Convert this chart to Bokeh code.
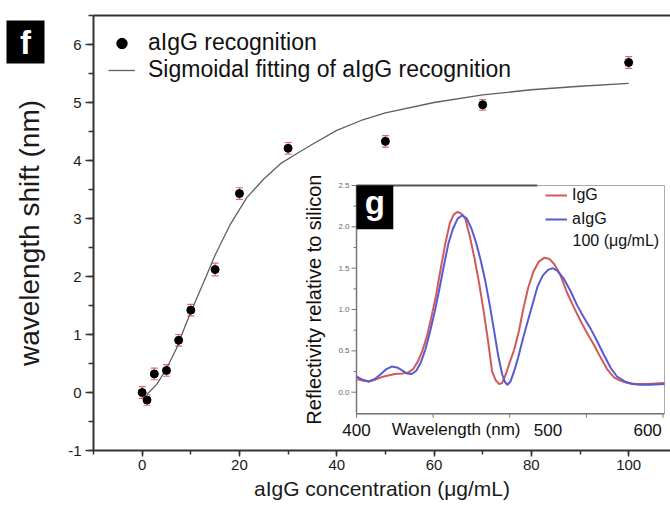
import math
from bokeh.plotting import figure
from bokeh.models import (Range1d, SingleIntervalTicker, ColumnDataSource, Whisker, TeeHead,
                          Legend, LegendItem)
from bokeh.core.properties import value
from bokeh.embed import file_html
from bokeh.resources import INLINE

# ---------------- data (main panel f) ----------------
conc = [0, 1, 2.5, 5, 7.5, 10, 15, 20, 30, 50, 70, 100]
shift = [0.0, -0.13, 0.32, 0.38, 0.90, 1.42, 2.12, 3.43, 4.21, 4.33, 4.96, 5.69]
shift_err = [0.10, 0.09, 0.10, 0.10, 0.10, 0.10, 0.11, 0.10, 0.10, 0.10, 0.09, 0.10]

fit_conc = [1, 3, 5, 7, 9, 11, 13, 15, 18, 21.5, 25, 28.5, 32, 35, 40, 45, 50, 60, 70, 80, 90, 100]
fit_shift = [-0.03, 0.14, 0.41, 0.75, 1.18, 1.58, 1.97, 2.37, 2.88, 3.36, 3.68, 3.95, 4.13,
             4.28, 4.52, 4.69, 4.82, 5.00, 5.13, 5.22, 5.28, 5.33]

# ---------------- data (inset panel g) ----------------
wl_igg = [400, 404, 408, 412, 416, 420, 425, 430, 434, 437, 440, 443, 446, 449, 452, 455, 458,
          461, 463.5, 466, 468.5, 471, 474, 477, 480, 483, 486, 488.5, 491, 493, 495, 497.5,
          500, 503, 506, 509, 512, 515.5, 519, 522.5, 526, 529, 533, 537.5, 542, 546, 550,
          555, 559, 563.5, 568, 572, 577, 582, 590, 601]
refl_igg = [0.16, 0.14, 0.13, 0.15, 0.18, 0.20, 0.22, 0.225, 0.24, 0.28, 0.37, 0.50, 0.68, 0.92,
            1.18, 1.50, 1.80, 2.05, 2.15, 2.18, 2.16, 2.10, 1.88, 1.62, 1.32, 0.98, 0.60, 0.25,
            0.14, 0.10, 0.11, 0.22, 0.36, 0.52, 0.74, 1.02, 1.26, 1.46, 1.58, 1.625, 1.61, 1.55,
            1.42, 1.20, 1.02, 0.87, 0.73, 0.57, 0.43, 0.28, 0.18, 0.14, 0.11, 0.10, 0.10, 0.11]

wl_aigg = [400, 404, 408, 412, 416, 419.5, 423, 426.5, 430, 433, 436, 439, 442, 445, 448, 451,
           454, 457, 460, 463, 466, 469, 472, 475, 478, 481, 484, 487, 490, 492.5, 495, 497,
           498.5, 500.5, 503, 505.5, 508.5, 511.5, 515, 518, 521.5, 525, 528, 531, 535, 539.5,
           544, 548.5, 553, 557, 561.5, 566, 570, 575, 580, 585, 592, 601]
refl_aigg = [0.19, 0.15, 0.13, 0.16, 0.22, 0.28, 0.31, 0.30, 0.26, 0.225, 0.22, 0.26, 0.36, 0.52,
             0.73, 0.97, 1.24, 1.53, 1.80, 1.98, 2.10, 2.14, 2.10, 1.98, 1.81, 1.60, 1.35, 1.05,
             0.72, 0.44, 0.22, 0.12, 0.09, 0.13, 0.26, 0.42, 0.64, 0.84, 1.07, 1.27, 1.41, 1.48,
             1.50, 1.47, 1.38, 1.23, 1.05, 0.90, 0.76, 0.62, 0.45, 0.29, 0.19, 0.13, 0.10, 0.09,
             0.09, 0.10]

inset_yticks = [0.0, 0.5, 1.0, 1.5, 2.0, 2.5]
inset_ytick_labels = ["0.0", "0.5", "1.0", "1.5", "2.0", "2.5"]
inset_yminor = [0.25, 0.75, 1.25, 1.75, 2.25]
inset_xticks = [400, 450, 500, 550, 600]
inset_xlabel_pos = [400, 525, 590]
inset_xlabels = ["400", "500", "600"]

# ---------------- layout constants ----------------
W, H = 670, 505
XLO, XHI = -10, 108.6          # main axes extent (data)
YLO, YHI = -1, 6.5
AX_LEFT, AX_TOP, AX_BOTTOM = 93, 15, 450   # main axes box in pixels
INSET_X = (400, 601)
INSET_Y = (-0.26, 2.5)
INSET_LEFT_PX, INSET_RIGHT_PX = 356, 664
INSET_Y0_PX, INSET_TOP_PX = 391.7, 185

xs = (W - AX_LEFT) / (XHI - XLO)
ys = (AX_BOTTOM - AX_TOP) / (YHI - YLO)
x_start = XLO - AX_LEFT / xs
y_start = YLO - (H - AX_BOTTOM) / ys
y_end = YHI + AX_TOP / ys

ws = (INSET_RIGHT_PX - INSET_LEFT_PX) / (INSET_X[1] - INSET_X[0])
wl_start = INSET_X[0] - INSET_LEFT_PX / ws
wl_end = wl_start + W / ws
rs = (INSET_Y0_PX - INSET_TOP_PX) / INSET_Y[1]
r_end = INSET_Y0_PX / rs
r_start = -(H - INSET_Y0_PX) / rs

FONT = "Liberation Sans"
RED = "#d05a5a"
BLUE = "#5a5ad0"
ERR = "#e46a6a"
AXC = "#333333"

p = figure(width=W, height=H,
           x_range=Range1d(x_start, XHI), y_range=Range1d(y_start, y_end),
           output_backend="svg", toolbar_location=None,
           min_border_left=0, min_border_right=0, min_border_top=0, min_border_bottom=0)
p.outline_line_color = None
p.grid.visible = False
p.background_fill_color = "white"

p.extra_x_ranges = {"wl": Range1d(wl_start, wl_end)}
p.extra_y_ranges = {"refl": Range1d(r_start, r_end)}

# axes styling
p.xaxis.ticker = SingleIntervalTicker(interval=20, num_minor_ticks=2)
p.yaxis.ticker = SingleIntervalTicker(interval=1, num_minor_ticks=2)
p.xaxis.fixed_location = YLO
p.yaxis.fixed_location = XLO
p.xaxis.bounds = (XLO, XHI)
p.yaxis.bounds = (YLO, YHI)
for ax in (p.xaxis[0], p.yaxis[0]):
    ax.axis_line_color = AXC
    ax.axis_line_width = 2
    ax.major_tick_line_color = AXC
    ax.minor_tick_line_color = AXC
    ax.major_tick_line_width = 1.5
    ax.minor_tick_line_width = 1.5
    ax.major_tick_in = 0
    ax.minor_tick_in = 0
    ax.major_label_text_font = FONT
    ax.major_label_text_font_size = "15px"
    ax.major_label_text_color = "#1a1a1a"
    ax.axis_label_text_font = FONT
    ax.axis_label_text_font_style = "normal"
    ax.axis_label_text_color = "#1a1a1a"
p.yaxis.major_label_overrides = {-1: "-1"}
p.xaxis.major_tick_out = 6
p.xaxis.minor_tick_out = 4
p.yaxis.major_tick_out = 8
p.yaxis.minor_tick_out = 5
p.xaxis.major_label_standoff = 3
p.yaxis.major_label_standoff = 4
p.xaxis.axis_label = "aIgG concentration (\u03bcg/mL)"
p.xaxis.axis_label_text_font_size = "21px"
p.xaxis.axis_label_standoff = 4
p.yaxis.axis_label = "wavelength shift (nm)"
p.yaxis.axis_label_text_font_size = "28px"
p.yaxis.axis_label_standoff = 20

# top frame line
p.segment(x0=[XLO], y0=[YHI], x1=[XHI], y1=[YHI], line_color=AXC, line_width=2)

# main data
src = ColumnDataSource(dict(conc=conc, shift=shift,
                            upper=[s + e for s, e in zip(shift, shift_err)],
                            lower=[s - e for s, e in zip(shift, shift_err)]))
p.add_layout(Whisker(source=src, base="conc", upper="upper", lower="lower",
                     line_color=ERR, line_width=1.2,
                     upper_head=TeeHead(size=7, line_color=ERR, line_width=1.2),
                     lower_head=TeeHead(size=7, line_color=ERR, line_width=1.2)))
fit_r = p.line(fit_conc, fit_shift, line_color="#606060", line_width=1.3)
pts_r = p.scatter("conc", "shift", source=src, size=8, fill_color="black", line_color="black")

leg = Legend(items=[LegendItem(label="aIgG recognition", renderers=[pts_r]),
                    LegendItem(label="Sigmoidal fitting of aIgG recognition", renderers=[fit_r])],
             location=(108, H - 83), orientation="vertical",
             label_text_font=FONT, label_text_font_size="23px", label_text_color="#111111",
             glyph_width=27, glyph_height=26, label_height=26, label_standoff=13,
             spacing=0, padding=0, margin=0,
             border_line_color=None, background_fill_alpha=0)
p.add_layout(leg)

# panel label f (black box, white bold letter), placed left of the axes
f_left, f_right = XLO + (6 - AX_LEFT) / xs, XLO + (44 - AX_LEFT) / xs
f_top, f_bottom = YLO + (AX_BOTTOM - 20) / ys, YLO + (AX_BOTTOM - 63) / ys
p.quad(left=[f_left], right=[f_right], bottom=[f_bottom], top=[f_top],
       fill_color="black", line_color=None)
p.text(x=[(f_left + f_right) / 2], y=[(f_top + f_bottom) / 2], text=["f"],
       text_align="center", text_baseline="middle",
       text_font=value(FONT), text_font_size="33px", text_font_style="bold", text_color="white")

# ---------------- inset ----------------
kw = dict(x_range_name="wl", y_range_name="refl")
p.quad(left=INSET_X[0], right=INSET_X[1], bottom=INSET_Y[0], top=INSET_Y[1],
       fill_color="white", line_color="#aaaaaa", line_width=1, **kw)
p.segment(x0=[INSET_X[0], INSET_X[0]], y0=[INSET_Y[0], INSET_Y[0]],
          x1=[INSET_X[0], INSET_X[1]], y1=[INSET_Y[1], INSET_Y[0]],
          line_color="#777777", line_width=1.5, **kw)
p.segment(x0=[INSET_X[0]], y0=[INSET_Y[1]], x1=[518], y1=[INSET_Y[1]],
          line_color="#555555", line_width=2, **kw)

p.ray(x=[INSET_X[0]] * len(inset_yticks), y=inset_yticks, length=5, length_units="screen",
      angle=math.pi, line_color="#777777", line_width=1, **kw)
p.ray(x=[INSET_X[0]] * len(inset_yminor), y=inset_yminor, length=3, length_units="screen",
      angle=math.pi, line_color="#777777", line_width=1, **kw)
p.ray(x=inset_xticks, y=[INSET_Y[0]] * len(inset_xticks), length=4, length_units="screen",
      angle=-math.pi / 2, line_color="#777777", line_width=1, **kw)

p.text(x=[INSET_X[0]] * len(inset_yticks), y=inset_yticks, text=inset_ytick_labels,
       x_offset=-7, text_align="right", text_baseline="middle",
       text_font=value(FONT), text_font_size="8px", text_color="#666666", **kw)
p.text(x=inset_xlabel_pos, y=[INSET_Y[0]] * len(inset_xlabel_pos), text=inset_xlabels,
       y_offset=16, text_align="center", text_baseline="middle",
       text_font=value(FONT), text_font_size="17px", text_color="#111111", **kw)
p.text(x=[465], y=[INSET_Y[0]], text=["Wavelength (nm)"], y_offset=16,
       text_align="center", text_baseline="middle",
       text_font=value(FONT), text_font_size="17px", text_color="#111111", **kw)
p.text(x=[INSET_X[0]], y=[(INSET_Y[0] + INSET_Y[1]) / 2], text=["Reflectivity relative to silicon"],
       x_offset=-43, angle=math.pi / 2, text_align="center", text_baseline="middle",
       text_font=value(FONT), text_font_size="20px", text_color="#111111", **kw)

igg_r = p.line(wl_igg, refl_igg, line_color=RED, line_width=2, line_join="round", **kw)
aigg_r = p.line(wl_aigg, refl_aigg, line_color=BLUE, line_width=2, line_join="round", **kw)

leg2 = Legend(items=[LegendItem(label="IgG", renderers=[igg_r]),
                     LegendItem(label="aIgG", renderers=[aigg_r])],
              location=(545, H - 231), orientation="vertical",
              label_text_font=FONT, label_text_font_size="16px", label_text_color="#111111",
              glyph_width=22, glyph_height=24, label_height=24, label_standoff=5,
              spacing=0, padding=0, margin=0,
              border_line_color=None, background_fill_alpha=0)
p.add_layout(leg2)
p.text(x=[541], y=[1.835], text=["100 (\u03bcg/mL)"], text_align="left", text_baseline="middle",
       text_font=value(FONT), text_font_size="16px", text_color="#111111", **kw)

# panel label g
p.quad(left=[400], right=[424], bottom=[1.97], top=[2.5], fill_color="black", line_color=None, **kw)
p.text(x=[412], y=[2.30], text=["g"], text_align="center", text_baseline="middle",
       text_font=value(FONT), text_font_size="33px", text_font_style="bold",
       text_color="white", **kw)

open("out.html", "w").write(file_html(p, INLINE))
